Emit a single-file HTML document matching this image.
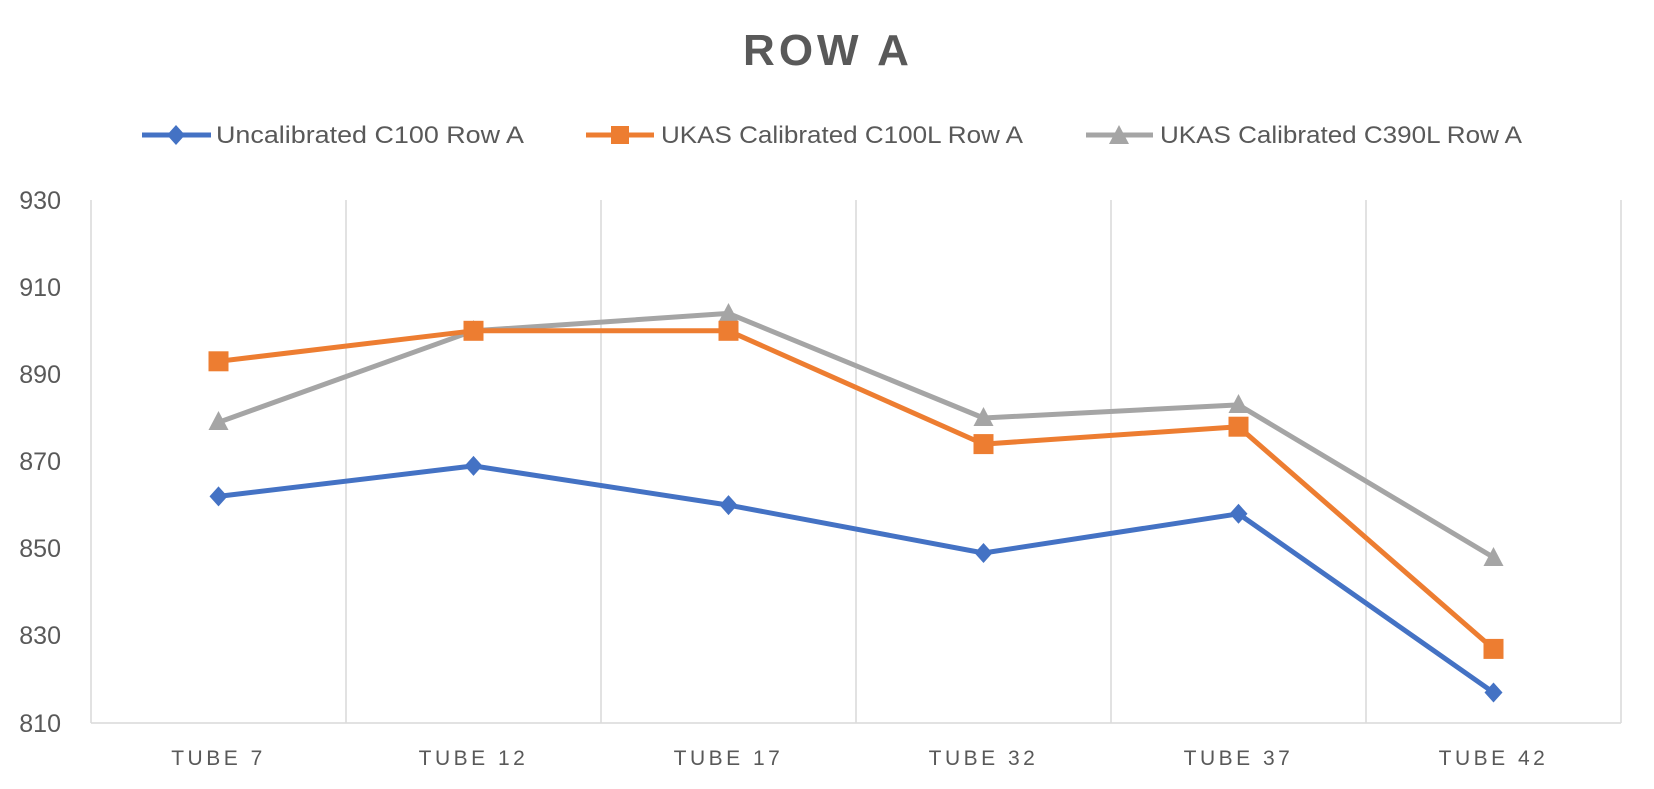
<!DOCTYPE html>
<html><head><style>body{margin:0;background:#fff}svg{display:block}</style></head><body>
<svg width="1654" height="789" xmlns="http://www.w3.org/2000/svg" font-family="Liberation Sans, sans-serif">
<rect width="1654" height="789" fill="#fff"/>
<text x="828" y="65" text-anchor="middle" font-size="44" font-weight="bold" fill="#595959" letter-spacing="4">ROW A</text>
<g font-size="24" fill="#595959">
<line x1="142" y1="135" x2="211" y2="135" stroke="#4472C4" stroke-width="5"/>
<polygon points="176,125 185,135 176,145 167,135" fill="#4472C4"/>
<text x="216" y="143" textLength="308" lengthAdjust="spacingAndGlyphs">Uncalibrated C100 Row A</text>
<line x1="586" y1="135" x2="654" y2="135" stroke="#ED7D31" stroke-width="5"/>
<rect x="611" y="126" width="18" height="18" fill="#ED7D31"/>
<text x="661" y="143" textLength="362" lengthAdjust="spacingAndGlyphs">UKAS Calibrated C100L Row A</text>
<line x1="1086" y1="135" x2="1153" y2="135" stroke="#A5A5A5" stroke-width="5"/>
<polygon points="1119,125 1129,144 1109,144" fill="#A5A5A5"/>
<text x="1160" y="143" textLength="362" lengthAdjust="spacingAndGlyphs">UKAS Calibrated C390L Row A</text>
</g>
<g stroke="#d9d9d9" stroke-width="1.5">
<line x1="91" y1="200" x2="91" y2="723"/><line x1="346" y1="200" x2="346" y2="723"/>
<line x1="601" y1="200" x2="601" y2="723"/><line x1="856" y1="200" x2="856" y2="723"/>
<line x1="1111" y1="200" x2="1111" y2="723"/><line x1="1366" y1="200" x2="1366" y2="723"/>
<line x1="1621" y1="200" x2="1621" y2="723"/>
<line x1="91" y1="723" x2="1621" y2="723"/>
</g>
<g font-size="25" fill="#595959" text-anchor="end">
<text x="61" y="209">930</text><text x="61" y="296">910</text><text x="61" y="383">890</text>
<text x="61" y="470">870</text><text x="61" y="557">850</text><text x="61" y="644">830</text><text x="61" y="732">810</text>
</g>
<g font-size="21" fill="#595959" text-anchor="middle" letter-spacing="3.5">
<text x="218.5" y="765">TUBE 7</text><text x="473.5" y="765">TUBE 12</text><text x="728.5" y="765">TUBE 17</text>
<text x="983.5" y="765">TUBE 32</text><text x="1238.5" y="765">TUBE 37</text><text x="1493.5" y="765">TUBE 42</text>
</g>
<polyline fill="none" stroke="#A5A5A5" stroke-width="5" stroke-linejoin="round" points="218.5,422.3 473.5,330.8 728.5,313.4 983.5,418 1238.5,404.9 1493.5,557.4"/>
<g fill="#A5A5A5">
<polygon points="218.5,411 228.5,430 208.5,430"/><polygon points="473.5,320 483.5,339 463.5,339"/><polygon points="728.5,303 738.5,322 718.5,322"/>
<polygon points="983.5,407 993.5,426 973.5,426"/><polygon points="1238.5,394 1248.5,413 1228.5,413"/><polygon points="1493.5,547 1503.5,566 1483.5,566"/>
</g>
<polyline fill="none" stroke="#ED7D31" stroke-width="5" stroke-linejoin="round" points="218.5,361.3 473.5,330.8 728.5,330.8 983.5,444.1 1238.5,426.7 1493.5,648.9"/>
<g fill="#ED7D31">
<rect x="208.5" y="351.3" width="20" height="20"/><rect x="463.5" y="320.8" width="20" height="20"/><rect x="718.5" y="320.8" width="20" height="20"/>
<rect x="973.5" y="434.1" width="20" height="20"/><rect x="1228.5" y="416.7" width="20" height="20"/><rect x="1483.5" y="638.9" width="20" height="20"/>
</g>
<polyline fill="none" stroke="#4472C4" stroke-width="5" stroke-linejoin="round" points="218.5,496.4 473.5,465.9 728.5,505.1 983.5,553 1238.5,513.8 1493.5,692.5"/>
<g fill="#4472C4">
<polygon points="218.5,486.4 227.5,496.4 218.5,506.4 209.5,496.4"/><polygon points="473.5,455.9 482.5,465.9 473.5,475.9 464.5,465.9"/>
<polygon points="728.5,495.1 737.5,505.1 728.5,515.1 719.5,505.1"/><polygon points="983.5,543 992.5,553 983.5,563 974.5,553"/>
<polygon points="1238.5,503.8 1247.5,513.8 1238.5,523.8 1229.5,513.8"/><polygon points="1493.5,682.5 1502.5,692.5 1493.5,702.5 1484.5,692.5"/>
</g>
</svg>
</body></html>
